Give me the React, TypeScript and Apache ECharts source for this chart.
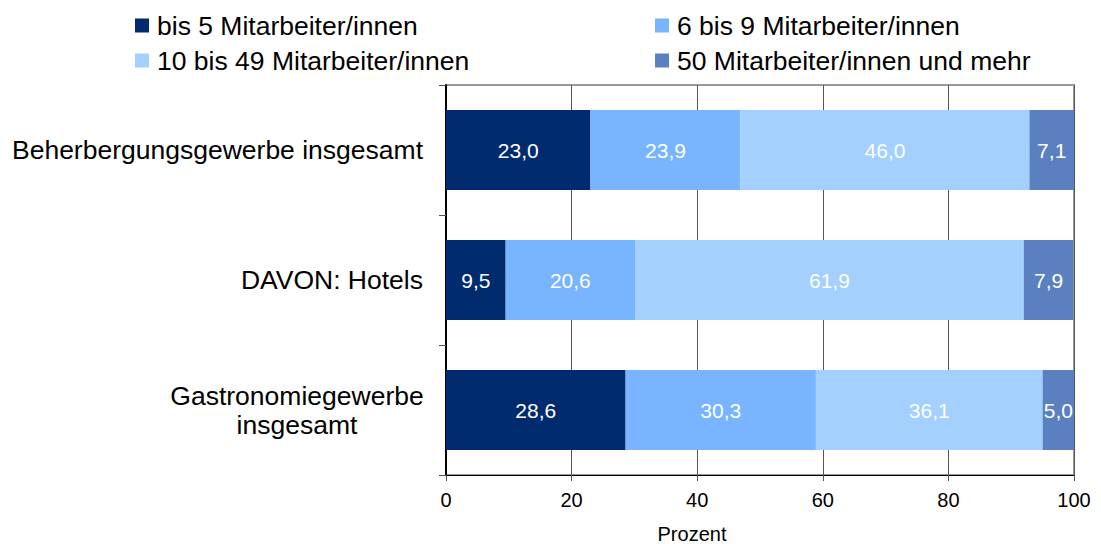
import React, { useEffect, useRef } from "react";
import * as echarts from "echarts";

const categories = [
  "Beherbergungsgewerbe insgesamt",
  "DAVON: Hotels",
  "Gastronomiegewerbe\ninsgesamt",
];
const seriesNames = [
  "bis 5 Mitarbeiter/innen",
  "6 bis 9 Mitarbeiter/innen",
  "10 bis 49 Mitarbeiter/innen",
  "50 Mitarbeiter/innen und mehr",
];
const bis5 = [23.0, 9.5, 28.6];
const bis9 = [23.9, 20.6, 30.3];
const bis49 = [46.0, 61.9, 36.1];
const ab50 = [7.1, 7.9, 5.0];
const colors = ["#002B6F", "#78B4FF", "#A3D0FF", "#5A80C0"];
const xTicks = [0, 20, 40, 60, 80, 100];

const FONT = "'Liberation Sans', Arial, sans-serif";

export default function App() {
  const ref = useRef<HTMLDivElement>(null);
  useEffect(() => {
    const chart = echarts.init(ref.current!, null, { renderer: "svg" });
    const values = [bis5, bis9, bis49, ab50];
    const fmt = (v: number) => v.toFixed(1).replace(".", ",");
    const legendText = { fontSize: 26.5, lineHeight: 26, color: "#000", fontFamily: FONT, padding: [0, 0, 0, 3] };
    chart.setOption({
      animation: false,
      textStyle: { fontFamily: FONT },
      legend: [
        {
          left: 130,
          top: 7,
          orient: "vertical",
          icon: "rect",
          itemWidth: 14,
          itemHeight: 14,
          itemGap: 8,
          data: [seriesNames[0], seriesNames[2]],
          textStyle: legendText,
        },
        {
          left: 650,
          top: 7,
          orient: "vertical",
          icon: "rect",
          itemWidth: 14,
          itemHeight: 14,
          itemGap: 8,
          data: [seriesNames[1], seriesNames[3]],
          textStyle: legendText,
        },
      ],
      grid: {
        left: 446,
        right: 27,
        top: 85,
        bottom: 69,
        outerBoundsMode: "none",
        containLabel: false,
        show: true,
        borderColor: "#999",
        borderWidth: 2,
      },
      xAxis: {
        type: "value",
        min: xTicks[0],
        max: xTicks[xTicks.length - 1],
        interval: 20,
        name: "Prozent",
        nameLocation: "middle",
        nameGap: 49,
        nameTextStyle: { fontSize: 20, color: "#000", fontFamily: FONT, padding: [0, 136, 0, 0] },
        axisLine: { show: true, lineStyle: { color: "#000", width: 1 } },
        axisTick: { show: true, length: 6, lineStyle: { color: "#555" } },
        axisLabel: { fontSize: 20, color: "#000", margin: 15, fontFamily: FONT },
        splitLine: { show: true, lineStyle: { color: "#555", width: 1 } },
      },
      yAxis: {
        type: "category",
        inverse: true,
        data: categories,
        axisLine: { show: true, lineStyle: { color: "#000", width: 2 } },
        axisTick: { show: true, length: 7, lineStyle: { color: "#555" } },
        axisLabel: {
          margin: 23,
          color: "#000",
          fontSize: 26.5,
          fontFamily: FONT,
          formatter: (v: string) => {
            if (v.includes("\n")) {
              return v
                .split("\n")
                .map((l) => `{c|${l}}`)
                .join("\n");
            }
            return v;
          },
          rich: {
            c: { width: 252, align: "center", fontSize: 26.5, lineHeight: 29, color: "#000", fontFamily: FONT },
          },
        },
      },
      series: seriesNames.map((name, i) => ({
        name,
        type: "bar",
        stack: "total",
        barWidth: 80,
        itemStyle: { color: colors[i] },
        label: {
          show: true,
          position: "inside",
          color: "#fff",
          fontSize: 21,
          fontFamily: FONT,
          formatter: (p: any) => fmt(p.value),
        },
        data: values[i],
      })),
    });
    return () => chart.dispose();
  }, []);
  return <div ref={ref} style={{ width: 1101, height: 544, position: "absolute", left: 0, top: 0 }} />;
}
